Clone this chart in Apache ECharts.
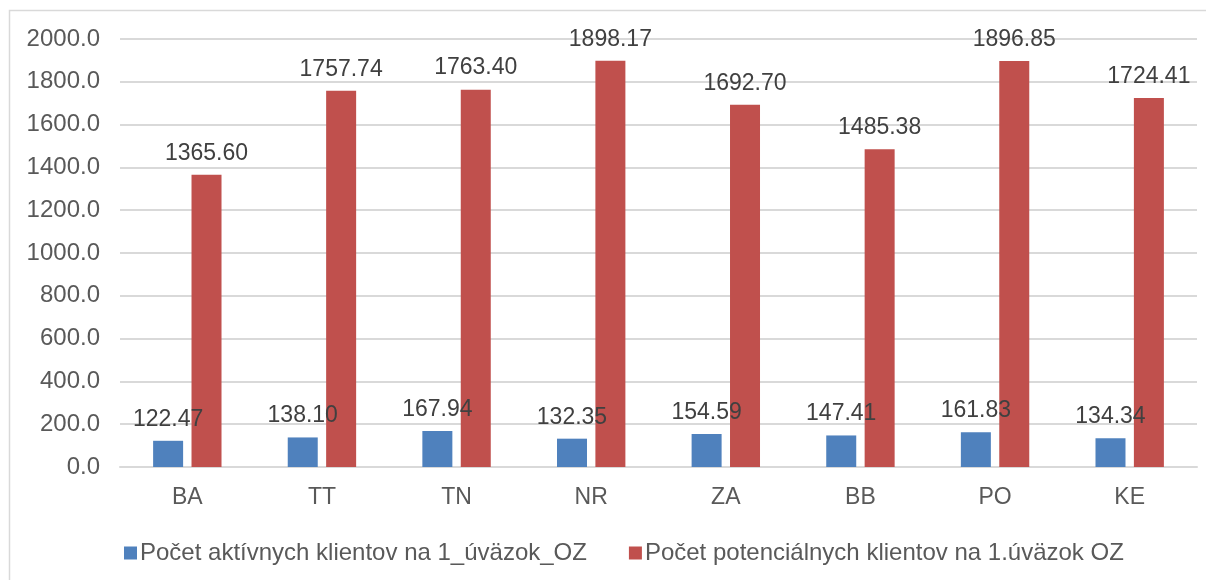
<!DOCTYPE html>
<html>
<head>
<meta charset="utf-8">
<script src="https://cdn.jsdelivr.net/npm/echarts@6/dist/echarts.min.js"></script>
<style>
  html, body { margin: 0; padding: 0; background: #ffffff; }
  #chart { width: 1206px; height: 580px; }
</style>
</head>
<body>
<div id="chart"></div>
<script>
// Regions (kraje)
var categories = ['BA', 'TT', 'TN', 'NR', 'ZA', 'BB', 'PO', 'KE'];
// Active clients per one full-time sales rep
var activeClients = [122.47, 138.10, 167.94, 132.35, 154.59, 147.41, 161.83, 134.34];
// Potential clients per one full-time sales rep
var potentialClients = [1365.60, 1757.74, 1763.40, 1898.17, 1692.70, 1485.38, 1896.85, 1724.41];
var seriesNames = ['Počet aktívnych klientov na 1_úväzok_OZ', 'Počet potenciálnych klientov na 1.úväzok OZ'];

var FONT = '"Liberation Sans", Arial, sans-serif';

var chart = echarts.init(document.getElementById('chart'), null, { renderer: 'canvas' });

var labelStyle = {
  show: true,
  position: 'top',
  distance: 10,
  color: '#404040',
  fontFamily: FONT,
  fontSize: 23,
  formatter: function (p) { return p.value.toFixed(2); }
};

chart.setOption({
  animation: false,
  backgroundColor: '#ffffff',
  graphic: [{
    type: 'rect',
    shape: { x: 9.5, y: 10.5, width: 1210, height: 600 },
    style: { fill: 'none', stroke: '#d9d9d9', lineWidth: 1.5 },
    silent: true,
    z: -10
  }],
  grid: { left: 120, right: 9, top: 39, bottom: 113, containLabel: false },
  legend: {
    left: 119,
    top: 536,
    itemWidth: 13,
    itemHeight: 13,
    itemGap: 42,
    icon: 'rect',
    textStyle: { color: '#595959', fontFamily: FONT, fontSize: 24, padding: [0, 0, 0, -2] },
    data: seriesNames
  },
  xAxis: {
    type: 'category',
    data: categories,
    axisLine: { lineStyle: { color: '#d9d9d9', width: 2 } },
    axisTick: { show: false },
    axisLabel: { color: '#595959', fontFamily: FONT, fontSize: 23, margin: 19 }
  },
  yAxis: {
    type: 'value',
    min: 0,
    max: 2000,
    interval: 200,
    axisLine: { show: false },
    axisTick: { show: false },
    splitLine: { lineStyle: { color: '#d9d9d9', width: 2 } },
    axisLabel: {
      color: '#595959', fontFamily: FONT, fontSize: 24, margin: 20,
      formatter: function (v) { return v.toFixed(1); }
    }
  },
  series: [
    {
      name: seriesNames[0],
      type: 'bar',
      data: activeClients,
      barWidth: 30,
      barGap: '28%',
      itemStyle: { color: '#4f81bd' },
      label: labelStyle,
      z: 3
    },
    {
      name: seriesNames[1],
      type: 'bar',
      data: potentialClients,
      barWidth: 30,
      itemStyle: { color: '#c0504d' },
      label: labelStyle,
      z: 2
    }
  ]
});
</script>
</body>
</html>
